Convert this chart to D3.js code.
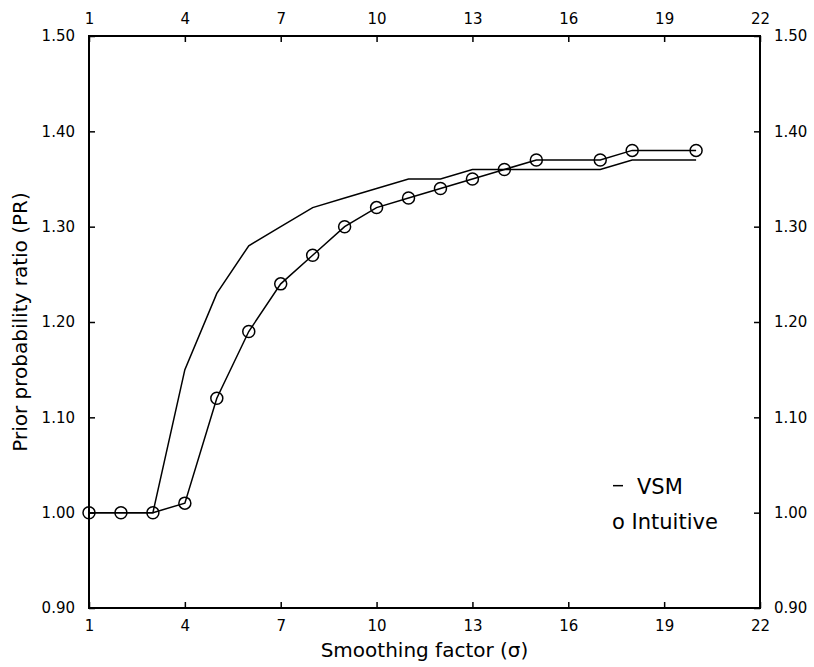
<!DOCTYPE html>
<html><head><meta charset="utf-8">
<script src="https://cdn.jsdelivr.net/npm/d3@7"></script>
<style>body{margin:0;background:#fff}</style>
</head><body>
<svg id="chart" width="814" height="667"></svg>
<script>
const vsmX = [1,2,3,4,5,6,7,8,9,10,11,12,13,14,15,16,17,18,19,20];
const vsmY = [1.00,1.00,1.00,1.15,1.23,1.28,1.30,1.32,1.33,1.34,1.35,1.35,1.36,1.36,1.36,1.36,1.36,1.37,1.37,1.37];
const intX = [1,2,3,4,5,6,7,8,9,10,11,12,13,14,15,17,18,20];
const intY = [1.00,1.00,1.00,1.01,1.12,1.19,1.24,1.27,1.30,1.32,1.33,1.34,1.35,1.36,1.37,1.37,1.38,1.38];
const xTicks = [1,4,7,10,13,16,19,22];
const yTicks = [0.90,1.00,1.10,1.20,1.30,1.40,1.50];

const svg = d3.select("#chart");
const L = 89, R = 760, T = 36, B = 608;
const x = d3.scaleLinear().domain([1,22]).range([L,R]);
const y = d3.scaleLinear().domain([0.90,1.50]).range([B,T]);
const font = "'DejaVu Sans', sans-serif";

// frame
svg.append("rect").attr("x",L).attr("y",T).attr("width",R-L).attr("height",B-T)
  .attr("fill","none").attr("stroke","#000").attr("stroke-width",2);

const fmt = d3.format(".2f");
const tl = -6;
const axB = svg.append("g").attr("transform",`translate(0,${B})`)
  .call(d3.axisBottom(x).tickValues(xTicks).tickSize(tl).tickPadding(12).tickFormat(d3.format("d")));
const axT = svg.append("g").attr("transform",`translate(0,${T})`)
  .call(d3.axisTop(x).tickValues(xTicks).tickSize(tl).tickPadding(12).tickFormat(d3.format("d")));
const axL = svg.append("g").attr("transform",`translate(${L},0)`)
  .call(d3.axisLeft(y).tickValues(yTicks).tickSize(tl).tickPadding(14).tickFormat(fmt));
const axR = svg.append("g").attr("transform",`translate(${R},0)`)
  .call(d3.axisRight(y).tickValues(yTicks).tickSize(tl).tickPadding(14).tickFormat(fmt));
[axB,axT,axL,axR].forEach(g=>{
  g.select(".domain").remove();
  g.selectAll(".tick line").attr("stroke","#000").attr("stroke-width",1.5);
  g.selectAll(".tick text").attr("font-family",font).attr("font-size",15).attr("fill","#000");
});

// lines
const line = d3.line().x(d=>x(d[0])).y(d=>y(d[1]));
const vsm = vsmX.map((v,i)=>[v,vsmY[i]]);
const intu = intX.map((v,i)=>[v,intY[i]]);
svg.append("path").datum(vsm).attr("d",line).attr("fill","none").attr("stroke","#000").attr("stroke-width",1.5);
svg.append("path").datum(intu).attr("d",line).attr("fill","none").attr("stroke","#000").attr("stroke-width",1.5);
svg.selectAll("circle.pt").data(intu).enter().append("circle").attr("class","pt")
  .attr("cx",d=>x(d[0])).attr("cy",d=>y(d[1])).attr("r",6)
  .attr("fill","none").attr("stroke","#000").attr("stroke-width",1.5);

// axis titles
svg.append("text").attr("x",(L+R)/2).attr("y",657).attr("text-anchor","middle")
  .attr("font-family",font).attr("font-size",20).text("Smoothing factor (σ)");
svg.append("text").attr("transform",`translate(27,${(T+B)/2}) rotate(-90)`).attr("text-anchor","middle")
  .attr("font-family",font).attr("font-size",20).text("Prior probability ratio (PR)");

// legend
svg.append("line").attr("x1",613).attr("x2",623).attr("y1",y(1.00)-27).attr("y2",y(1.00)-27)
  .attr("stroke","#000").attr("stroke-width",1.5);
svg.append("text").attr("x",637).attr("y",y(1.00)-19).attr("font-family",font).attr("font-size",21).text("VSM");
svg.append("text").attr("x",612).attr("y",y(1.00)+16).attr("font-family",font).attr("font-size",21).text("o Intuitive");
</script>
</body></html>
